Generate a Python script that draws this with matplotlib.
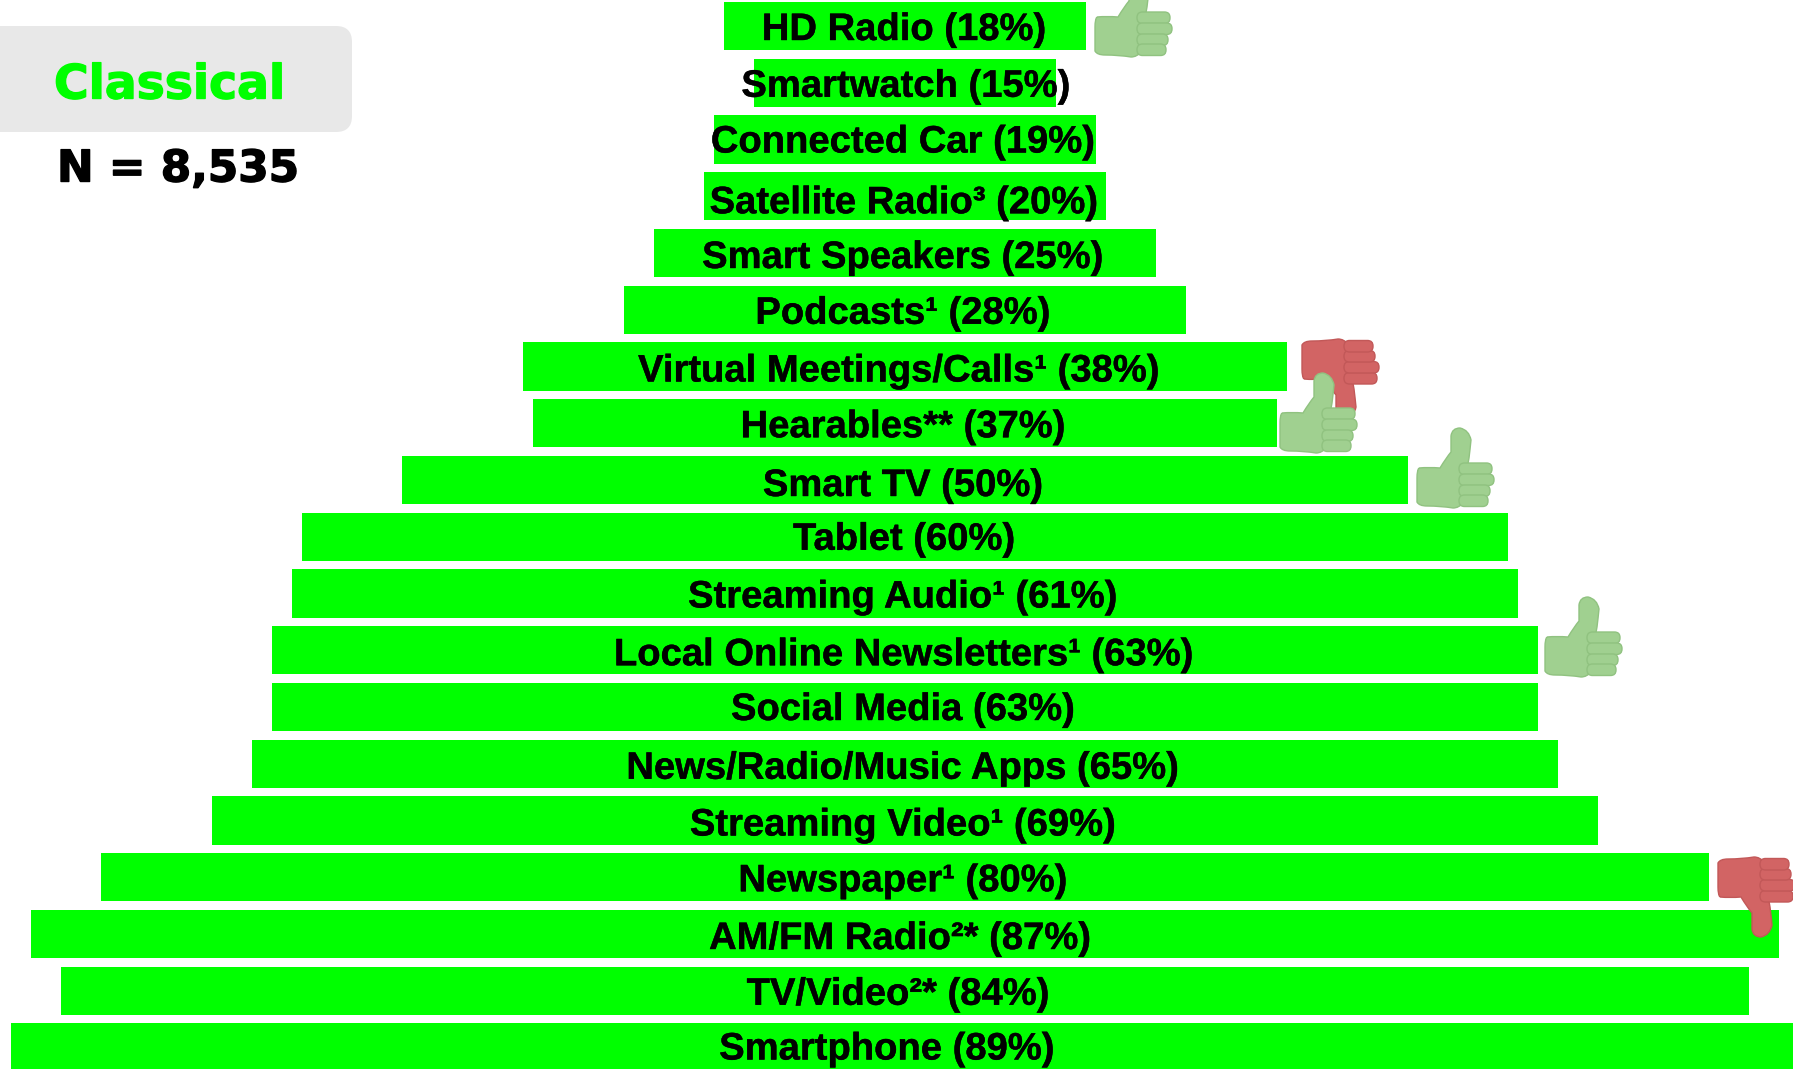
import matplotlib
matplotlib.use('Agg')
import matplotlib.pyplot as plt
import matplotlib.patheffects as pe
from matplotlib.patches import FancyBboxPatch, PathPatch
from matplotlib.path import Path
from matplotlib.transforms import Affine2D

plt.rcParams['font.family'] = ['Liberation Sans', 'DejaVu Sans']

# top row first
labels = [
    'HD Radio (18%)', 'Smartwatch (15%)', 'Connected Car (19%)', 'Satellite Radio³ (20%)',
    'Smart Speakers (25%)', 'Podcasts¹ (28%)', 'Virtual Meetings/Calls¹ (38%)', 'Hearables** (37%)',
    'Smart TV (50%)', 'Tablet (60%)', 'Streaming Audio¹ (61%)', 'Local Online Newsletters¹ (63%)',
    'Social Media (63%)', 'News/Radio/Music Apps (65%)', 'Streaming Video¹ (69%)', 'Newspaper¹ (80%)',
    'AM/FM Radio²* (87%)', 'TV/Video²* (84%)', 'Smartphone (89%)',
]
values = [18, 15, 19, 20, 25, 28, 38, 37, 50, 60, 61, 63, 63, 65, 69, 80, 87, 84, 89]

# hand placed text offsets from the bar centre, in pixels
label_dx = [-1, 1, -2, -1, -2, -2, -6, -2, -2, -1, -2, -1, -2, -2, -2, -2, -5, -7, -18]
label_dy = [4, 4, 3, 7, 5, 4, 5, 4, 6, 3, 4, 5, 3, 5, 5, 4, 5, 4, 2]

# thumb icons: left/top corner in image pixels, True = thumbs up
thumb_x = [1302, 1718, 1095, 1280, 1417, 1545]
thumb_y = [339, 857, -23, 373, 428, 597]
thumb_up = [False, False, True, True, True, True]

GREEN = '#00FF00'
WIDTH, HEIGHT = 1793, 1069
PX_PER_PCT = 20.1
CENTER_X = 905
ROW_TOP = 26
ROW_PITCH = 56.75

fig = plt.figure(figsize=(WIDTH / 100, HEIGHT / 100), dpi=100)

# bars
ax = fig.add_axes([0, 0, 1, 1])
ax.set_xlim(-CENTER_X / PX_PER_PCT, (WIDTH - CENTER_X) / PX_PER_PCT)
ax.set_ylim((HEIGHT - ROW_TOP) / ROW_PITCH, -ROW_TOP / ROW_PITCH)
ax.axis('off')
rows = list(range(len(values)))
ax.barh(rows, values, left=[-v / 2 for v in values], height=0.85, color=GREEN, linewidth=0)
heavy = [pe.withStroke(linewidth=0.3, foreground='black')]
for row, label, dx, dy in zip(rows, labels, label_dx, label_dy):
    ax.annotate(label, xy=(0, row), xytext=(dx * 0.72, -dy * 0.72), textcoords='offset points',
                ha='center', va='center', fontsize=27.5, fontweight='bold', color='black', zorder=3,
                path_effects=heavy)

# overlay in image pixels for the legend box and the icons
over = fig.add_axes([0, 0, 1, 1])
over.set_xlim(0, WIDTH)
over.set_ylim(HEIGHT, 0)
over.axis('off')
over.patch.set_alpha(0)

over.add_patch(FancyBboxPatch((-20, 26), 372, 106, boxstyle='round,pad=0,rounding_size=16',
                              facecolor='#E8E8E8', edgecolor='none'))
over.text(54, 86, 'Classical', color=GREEN, fontsize=34, fontweight='bold', ha='left', va='center',
          family='DejaVu Sans', path_effects=[pe.withStroke(linewidth=1.0, foreground=GREEN)])
over.text(57, 169, 'N = 8,535', color='black', fontsize=31.5, fontweight='bold', ha='left', va='center',
          family='DejaVu Sans', path_effects=[pe.withStroke(linewidth=1.0, foreground='black')])


def draw_thumb(ax, x, y, up, zorder):
    face = '#A0D090' if up else '#D26464'
    edge = '#90C280' if up else '#C25858'
    # thumb drawn pointing up in an 78x80 box; flip for thumbs down
    tf = Affine2D()
    if not up:
        tf = tf.scale(1, -1).translate(0, 80)
    tf = tf.translate(x, y) + ax.transData
    verts = [(2, 40), (0, 42), (0, 50), (0, 62), (0, 74), (2, 78), (10, 78), (24, 78), (36, 80), (48, 80),
             (50, 60), (50, 38), (52, 30), (53, 22), (54, 12), (52, 2), (43, 0), (35, 0), (34, 8), (34, 16),
             (34, 24), (29, 30), (23, 40), (12, 39), (2, 40)]
    codes = [Path.MOVETO] + [Path.CURVE3] * (len(verts) - 1)
    ax.add_patch(PathPatch(Path(verts, codes), transform=tf, facecolor=face, edgecolor=edge,
                           linewidth=1.0, zorder=zorder))
    for fy, fw in zip([35, 46, 57, 67], [33, 35, 31, 29]):
        ax.add_patch(FancyBboxPatch((42, fy), fw, 11.5, boxstyle='round,pad=0,rounding_size=5.5',
                                    transform=tf, facecolor=face, edgecolor=edge, linewidth=1.0,
                                    zorder=zorder))


for i, (tx, ty, up) in enumerate(zip(thumb_x, thumb_y, thumb_up)):
    draw_thumb(over, tx, ty, up, 5 + i)

fig.savefig('out.png', dpi=100)
